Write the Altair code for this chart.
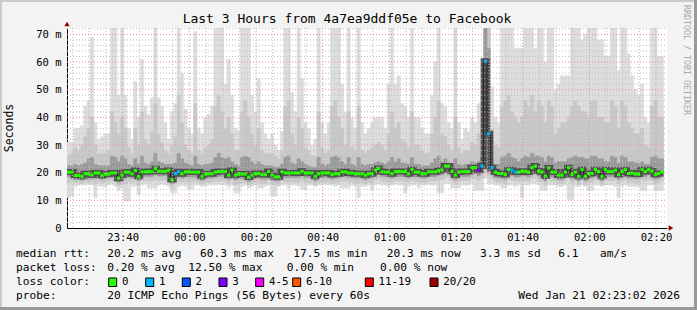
import altair as alt
import pandas as pd

# ---------------- data ----------------
# median RTT per minute (ms), first step starts at 23:23
med = [20.2, 20.2, 19.0, 19.0, 18.7, 19.6, 19.6, 19.2, 19.9, 19.9,
       19.0, 19.5, 19.5, 19.9, 19.9, 18.0, 19.1, 20.2, 20.2, 19.6,
       20.8, 18.7, 20.3, 20.3, 20.4, 20.4, 21.4, 20.5, 20.5, 20.5,
       20.9, 17.5, 19.6, 20.3, 19.6, 20.3, 20.3, 20.2, 20.2, 20.2,
       18.7, 19.6, 19.6, 19.6, 20.2, 20.4, 20.4, 20.4, 19.1, 20.9,
       19.1, 19.5, 19.5, 19.5, 18.4, 19.1, 19.7, 19.7, 19.3, 19.3,
       20.4, 19.1, 18.5, 18.5, 20.3, 19.9, 19.9, 19.9, 19.9, 19.9,
       20.5, 19.9, 19.9, 19.9, 18.7, 19.6, 19.9, 19.9, 19.9, 19.3,
       19.6, 19.6, 20.3, 20.3, 19.9, 19.9, 19.6, 19.6, 19.6, 19.1,
       19.6, 19.6, 20.9, 21.5, 20.3, 20.2, 20.2, 19.6, 20.4, 20.4,
       20.4, 20.4, 19.6, 21.1, 20.2, 20.2, 19.6, 19.6, 20.3, 20.3,
       20.3, 20.7, 21.0, 22.4, 22.4, 20.5, 19.1, 20.2, 20.4, 20.4,
       20.4, 21.8, 21.8, 20.9, 22.4, 60.3, 34.1, 21.8, 20.2, 19.7,
       19.7, 19.3, 21.1, 20.9, 20.2, 20.2, 20.5, 20.5, 20.2, 21.8,
       22.4, 20.6, 20.2, 18.8, 21.7, 20.2, 20.2, 19.1, 19.1, 20.2,
       21.8, 19.3, 20.2, 18.7, 21.1, 18.7, 19.7, 19.7, 21.1, 20.4,
       18.7, 21.1, 20.4, 20.4, 20.9, 19.3, 20.4, 21.1, 19.7, 19.9,
       19.5, 19.5, 21.1, 20.4, 21.1, 20.6, 19.3, 19.7, 20.3]

# lost pings (of 20) per minute
loss = [0] * len(med)
for idx, k in [(32, 1), (33, 1), (123, 3), (124, 1), (125, 1), (126, 1),
               (127, 1), (133, 1), (134, 1)]:
    loss[idx] = k

# smoke: outer (max/min), middle and inner ping spreads (ms)
hi1 = [31, 31, 36, 36, 37, 44, 46, 69, 38, 32,
       33, 34, 34, 75, 75, 48, 75, 48, 36, 32,
       53, 40, 61, 44, 41, 47, 75, 47, 44, 38,
       32, 42, 45, 75, 56, 43, 36, 34, 71, 36,
       34, 40, 41, 44, 75, 75, 75, 52, 61, 48,
       36, 35, 75, 75, 75, 48, 42, 54, 38, 34,
       32, 34, 30, 28, 35, 75, 75, 49, 42, 75,
       54, 38, 36, 30, 32, 75, 38, 34, 38, 75,
       75, 75, 52, 42, 75, 40, 36, 75, 38, 34,
       36, 38, 40, 40, 40, 36, 52, 75, 52, 55,
       45, 44, 40, 75, 40, 40, 36, 34, 34, 48,
       60, 75, 45, 44, 38, 36, 75, 38, 32, 36,
       35, 40, 38, 45, 45, 75, 75, 51, 40, 38,
       75, 75, 75, 75, 65, 65, 65, 75, 75, 75,
       65, 75, 75, 60, 75, 75, 50, 52, 55, 55,
       55, 75, 75, 75, 68, 70, 72, 75, 75, 68,
       68, 62, 62, 75, 75, 57, 75, 75, 63, 55,
       50, 48, 52, 40, 38, 75, 75, 62, 62]
hi2 = [26, 27, 29, 28, 30, 33, 36, 40, 30, 27,
       27, 27, 28, 42, 38, 34, 40, 36, 29, 27,
       36, 30, 42, 32, 30, 35, 45, 34, 31, 28,
       27, 30, 33, 48, 38, 30, 28, 27, 45, 28,
       27, 29, 30, 32, 44, 48, 42, 36, 40, 34,
       28, 28, 42, 46, 40, 34, 30, 36, 28, 27,
       27, 27, 26, 25, 28, 44, 46, 34, 30, 40,
       36, 29, 28, 26, 26, 42, 29, 27, 28, 44,
       46, 40, 36, 30, 42, 29, 28, 44, 28, 27,
       28, 29, 30, 31, 30, 28, 34, 42, 36, 38,
       32, 31, 29, 42, 30, 30, 28, 27, 27, 34,
       40, 46, 34, 33, 30, 28, 40, 29, 27, 28,
       28, 31, 30, 34, 36, 75, 75, 36, 30, 29,
       44, 46, 48, 42, 40, 38, 40, 46, 44, 48,
       42, 46, 44, 38, 46, 44, 34, 36, 38, 38,
       40, 44, 46, 44, 42, 42, 40, 46, 46, 40,
       40, 38, 38, 46, 44, 36, 46, 44, 38, 36,
       34, 34, 36, 30, 29, 44, 46, 40, 40]
hi3 = [22.5, 22.5, 23, 22.5, 23, 23.5, 25, 25.5, 23, 22.5,
       22.5, 22.5, 22.5, 26, 25.5, 24, 26, 25, 23, 22.5,
       25, 23, 26, 23.5, 23, 24, 27, 24, 23.5, 23,
       23, 23, 23.5, 27, 25, 23.5, 23, 22.5, 26, 23,
       22.5, 23, 23, 23.5, 25.5, 27, 25.5, 25, 25.5, 24,
       23, 22.5, 25.5, 26, 25.5, 24, 23, 24, 23, 22.5,
       22.5, 22.5, 22, 22, 23, 25.5, 26, 23.5, 23, 25,
       24, 23, 22.5, 22, 22, 25.5, 23, 22.5, 23, 25.5,
       26, 25.5, 24, 23, 25.5, 23, 22.5, 25.5, 23, 22.5,
       23, 23, 23.5, 24, 23.5, 23, 24, 25.5, 24, 25,
       23.5, 23.5, 23, 25.5, 23, 23, 22.5, 22.5, 22.5, 23.5,
       25, 26, 24, 25, 23.5, 23, 25, 23, 22.5, 23,
       23, 24, 23.5, 24, 25.5, 75, 65, 25, 23, 23,
       25.5, 26, 27, 25.5, 25, 24, 25, 26, 25.5, 27,
       26, 26, 25.5, 24, 26, 25.5, 23.5, 24, 24, 24,
       25, 25.5, 26, 25.5, 25.5, 25, 25, 26, 26, 25,
       25, 24, 24, 26, 25.5, 23.5, 26, 25.5, 24, 24,
       23.5, 23.5, 24, 23, 23, 25.5, 26, 25, 25]
lo3 = [18.5, 18.0, 17.5, 17.6, 17.2, 17.8, 17.6, 17.8, 18.0, 18.0,
       17.6, 17.8, 18.0, 18.2, 18.2, 16.5, 17.5, 18.5, 18.4, 18.0,
       18.8, 17.2, 18.6, 18.6, 18.6, 18.6, 19.5, 18.8, 18.8, 19.0,
       18.8, 16.0, 17.8, 18.5, 18.0, 18.6, 18.5, 18.4, 18.4, 18.4,
       17.2, 18.0, 18.0, 18.0, 18.4, 18.6, 18.6, 18.6, 17.6, 19.0,
       17.4, 17.8, 17.8, 17.8, 16.8, 17.4, 18.0, 18.0, 17.6, 17.6,
       18.6, 17.4, 17.0, 17.0, 18.6, 18.2, 18.2, 18.2, 18.2, 18.2,
       18.8, 18.2, 18.2, 18.2, 17.0, 18.0, 18.2, 18.2, 18.2, 17.6,
       18.0, 18.0, 18.6, 18.6, 18.2, 18.2, 18.0, 18.0, 18.0, 17.4,
       18.0, 18.0, 19.0, 19.6, 18.6, 18.5, 18.5, 18.0, 18.6, 18.6,
       18.6, 18.6, 18.0, 19.0, 18.4, 18.4, 18.0, 18.0, 18.6, 18.6,
       18.6, 19.0, 19.2, 20.5, 20.5, 18.8, 17.4, 18.4, 18.6, 18.6,
       18.6, 19.8, 19.8, 19.0, 20.0, 22.0, 20.0, 19.5, 18.4, 18.0,
       18.0, 17.6, 19.2, 19.0, 18.4, 18.4, 18.8, 18.8, 18.4, 19.8,
       20.4, 18.8, 18.4, 17.0, 19.8, 18.4, 18.4, 17.4, 17.4, 18.4,
       19.8, 17.6, 18.4, 17.0, 19.2, 17.0, 18.0, 18.0, 19.2, 18.6,
       17.0, 19.2, 18.6, 18.6, 19.0, 17.6, 18.6, 19.2, 18.0, 18.2,
       17.8, 17.8, 19.2, 18.6, 19.2, 18.8, 17.6, 18.0, 18.6]
lo2 = [16.5, 16.8, 16.5, 16.6, 16.2, 16.8, 16.4, 16.7, 16.0, 16.8,
       16.2, 16.5, 16.8, 17.0, 16.6, 15.2, 16.0, 16.0, 16.8, 16.5,
       17.0, 15.5, 17.0, 17.2, 16.8, 17.0, 17.5, 17.2, 17.0, 17.3,
       17.0, 14.5, 16.0, 16.8, 16.5, 16.8, 16.5, 16.6, 16.8, 16.6,
       15.8, 16.5, 16.5, 16.5, 16.8, 17.0, 17.0, 17.0, 16.2, 17.2,
       15.5, 16.0, 16.4, 16.4, 15.5, 16.0, 16.5, 16.5, 16.0, 16.2,
       17.0, 16.0, 15.5, 15.5, 17.0, 16.6, 16.4, 16.6, 16.6, 16.5,
       17.0, 16.5, 16.5, 16.5, 15.5, 16.4, 16.5, 16.5, 16.6, 16.0,
       16.5, 16.5, 17.0, 16.8, 16.6, 16.6, 16.2, 16.0, 16.4, 16.0,
       16.5, 16.2, 17.2, 17.8, 17.0, 16.8, 16.8, 16.4, 17.0, 17.0,
       17.0, 16.8, 16.4, 17.2, 16.8, 16.6, 16.4, 16.4, 17.0, 17.0,
       17.0, 17.2, 17.4, 18.4, 18.4, 17.0, 16.0, 16.6, 17.0, 17.0,
       17.0, 18.0, 18.0, 17.2, 18.0, 20.0, 18.5, 17.8, 16.8, 16.5,
       16.5, 16.0, 17.4, 17.2, 16.8, 16.8, 17.0, 17.0, 16.8, 18.0,
       18.4, 17.0, 16.8, 15.5, 18.0, 16.8, 16.8, 16.0, 16.0, 16.8,
       18.0, 16.2, 16.8, 15.6, 17.4, 15.6, 16.4, 16.4, 17.4, 17.0,
       15.6, 17.4, 17.0, 17.0, 17.2, 16.0, 17.0, 17.4, 16.4, 16.6,
       16.2, 16.2, 17.4, 17.0, 17.4, 17.0, 16.0, 16.4, 17.0]
lo1 = [11.0, 11.5, 15.0, 15.5, 15.5, 15.5, 15.8, 15.5, 11.0, 15.2,
       14.8, 15.0, 15.5, 15.8, 15.0, 13.5, 14.5, 9.7, 9.7, 15.0,
       15.0, 12.0, 15.5, 15.8, 14.5, 14.5, 14.5, 15.5, 15.8, 15.5,
       15.0, 12.7, 12.7, 15.0, 15.5, 15.0, 14.0, 14.0, 15.5, 15.5,
       15.0, 15.2, 15.5, 15.5, 15.5, 15.8, 15.5, 15.5, 14.8, 15.5,
       12.7, 12.7, 15.0, 15.5, 14.5, 15.0, 15.5, 14.5, 14.5, 15.0,
       15.5, 11.5, 11.5, 15.0, 15.5, 15.5, 14.5, 15.5, 15.5, 15.2,
       14.0, 14.0, 15.5, 15.5, 15.0, 15.5, 15.5, 15.8, 15.5, 15.5,
       15.0, 15.5, 14.5, 14.5, 14.5, 15.5, 15.0, 10.9, 15.0, 15.0,
       15.5, 13.5, 15.5, 16.0, 15.5, 15.5, 15.0, 15.5, 15.8, 15.5,
       15.5, 12.7, 15.0, 15.5, 15.5, 14.5, 15.5, 15.5, 15.8, 15.5,
       15.5, 12.7, 12.7, 16.0, 16.0, 14.5, 14.5, 14.5, 15.5, 15.5,
       15.5, 16.0, 13.5, 13.5, 13.5, 18.0, 16.0, 16.0, 15.5, 15.5,
       14.5, 14.5, 15.5, 15.5, 15.0, 15.5, 10.9, 15.5, 15.5, 16.0,
       16.0, 15.5, 13.5, 13.5, 15.5, 15.5, 15.5, 15.0, 15.0, 15.5,
       10.3, 10.3, 15.0, 15.0, 15.5, 15.0, 13.5, 13.5, 15.5, 15.5,
       15.0, 15.5, 15.5, 15.5, 15.0, 10.9, 15.0, 15.5, 15.0, 15.0,
       15.0, 15.0, 13.5, 13.5, 15.5, 15.5, 13.5, 13.5, 13.5]

loss_labels = ["0", "1", "2", "3", "4-5", "6-10", "11-19", "20/20"]
loss_colors = ["#26ff00", "#00b8ff", "#0059ff", "#7e00ff", "#ff00ff",
               "#ff5500", "#ff0000", "#a10000"]

x_tick_values = [40, 60, 80, 100, 120, 140, 160, 180, 200]   # minutes after 23:00
y_tick_values = [0, 10, 20, 30, 40, 50, 60, 70]

# ---------------- frame ----------------
T0 = 23.3            # left edge: minutes after 23:00
W, H = 600, 200
PL, PT = 67, 28
YMAX = 72.3

def lclass(k):
    if k <= 3:
        return loss_labels[k]
    if k <= 5:
        return "4-5"
    if k <= 10:
        return "6-10"
    if k <= 19:
        return "11-19"
    return "20/20"

n = len(med)
df = pd.DataFrame({
    "t": [T0 + i for i in range(n)],
    "t2": [T0 + i + 1 for i in range(n)],
    "med": med, "lc": [lclass(k) for k in loss],
    "hi1": hi1, "hi2": hi2, "hi3": hi3, "lo1": lo1, "lo2": lo2, "lo3": lo3,
})

FONT = "DejaVu Sans Mono"
xs = alt.Scale(domain=[T0, T0 + 180], nice=False, zero=False)
ys = alt.Scale(domain=[0, YMAX], nice=False)
xaxis = alt.Axis(values=x_tick_values, title=None, grid=False, ticks=False,
                 labelExpr="timeFormat(datetime(2026, 0, 20, 23, datum.value, 0), '%H:%M')",
                 labelFont=FONT, labelFontSize=10.5, labelColor="#000",
                 labelPadding=4, domainColor="#000", domainWidth=1,
                 labelFlush=False, labelOverlap=False)
yaxis = alt.Axis(values=y_tick_values, title=None, grid=False, ticks=False,
                 labelExpr="datum.value == 0 ? '0\u00a0\u00a0' : datum.value + ' m'",
                 labelFont=FONT, labelFontSize=10.5, labelColor="#000",
                 labelPadding=6, domainColor="#000", domainWidth=1,
                 labelFlush=False, labelOverlap=False)

def X(f):
    return alt.X(f, scale=xs, axis=xaxis)

def Y(f):
    return alt.Y(f, scale=ys, axis=yaxis)

base = alt.Chart(df)
layers = []
for lo, hi, col in [("lo1", "hi1", "#dddddd"), ("lo2", "hi2", "#c8c8c8"),
                    ("lo3", "hi3", "#9a9a9a")]:
    layers.append(base.mark_bar(color=col, stroke=col, strokeWidth=0.5, clip=True)
                  .encode(x=X("t:Q"), x2="t2:Q", y=Y(lo + ":Q"), y2=hi + ":Q"))
# dark core around the median
layers.append(base.mark_line(interpolate="step-after", color="#505050",
                             strokeWidth=6, clip=True)
              .encode(x=X("t:Q"), y=Y("med:Q")))

# grid
v_minor = [v for v in range(25, 205, 5) if v % 20 != 0]
v_major = x_tick_values
h_minor = [v for v in range(2, 73, 2) if v % 10 != 0]
h_major = [10, 20, 30, 40, 50, 60, 70]
layers.append(alt.Chart(pd.DataFrame({"v": v_minor})).mark_rule(
    color="#bdbdbd", strokeDash=[1, 2], strokeWidth=1)
    .encode(x=X("v:Q"), y=alt.value(0), y2=alt.value(H)))
layers.append(alt.Chart(pd.DataFrame({"v": h_minor})).mark_rule(
    color="#bdbdbd", strokeDash=[1, 2], strokeWidth=1)
    .encode(y=Y("v:Q"), x=alt.value(0), x2=alt.value(W)))
layers.append(alt.Chart(pd.DataFrame({"v": v_major})).mark_rule(
    color="#f08c8c", strokeDash=[1, 2], strokeWidth=1)
    .encode(x=X("v:Q"), y=alt.value(0), y2=alt.value(H)))
layers.append(alt.Chart(pd.DataFrame({"v": h_major})).mark_rule(
    color="#f08c8c", strokeDash=[1, 2], strokeWidth=1)
    .encode(y=Y("v:Q"), x=alt.value(0), x2=alt.value(W)))

# median line (thin connector + coloured segments by loss)
layers.append(base.mark_line(interpolate="step-after", color="#202020",
                             strokeWidth=1, clip=True)
              .encode(x=X("t:Q"), y=Y("med:Q")))
layers.append(base.mark_rule(strokeWidth=3, clip=True).encode(
    x=X("t:Q"), x2="t2:Q", y=Y("med:Q"),
    color=alt.Color("lc:N", scale=alt.Scale(domain=loss_labels, range=loss_colors),
                    legend=None)))

one = pd.DataFrame({"a": [0]})

def text(s, px, py, size=11.2, align="left", color="#000", angle=0, font=FONT):
    kw = dict(text=s, font=font, fontSize=size, align=align, baseline="middle",
              color=color)
    if angle:
        kw["angle"] = angle
    return alt.Chart(one).mark_text(**kw).encode(
        x=alt.value(px - PL), y=alt.value(py - PT))

# arrows at axis ends
layers.append(alt.Chart(one).mark_point(shape="triangle-up", filled=True,
                                        color="#8b0000", size=28, opacity=1)
              .encode(x=alt.value(0), y=alt.value(-4)))
layers.append(alt.Chart(one).mark_point(shape="triangle-right", filled=True,
                                        color="#8b0000", size=28, opacity=1)
              .encode(x=alt.value(W + 4), y=alt.value(H)))

# titles
layers.append(text("Last 3 Hours from 4a7ea9ddf05e to Facebook", 347, 19, size=13,
                   align="center"))
layers.append(text("Seconds", 10, 128, size=11.5, align="center", angle=270))
layers.append(text("RRDTOOL / TOBI OETIKER", 686, 60, size=8.3, align="center",
                   angle=90, color="#a8a8a8"))

# legend lines
rows = [
    (254.3, [("median rtt:", 16), ("20.2 ms avg", 107.3), ("60.3 ms max", 200),
             ("17.5 ms min", 293.3), ("20.3 ms now", 386.7), ("3.3 ms sd", 480),
             ("6.1", 558.3), ("am/s", 600)]),
    (268.3, [("packet loss:", 16), ("0.20 % avg", 107.3), ("12.50 % max", 188.3),
             ("0.00 % min", 286.7), ("0.00 % now", 380)]),
    (282.3, [("loss color:", 16)]),
    (296.0, [("probe:", 16), ("20 ICMP Echo Pings (56 Bytes) every 60s", 107.3)]),
]
for py, toks in rows:
    for s, px in toks:
        layers.append(text(s, px, py))
layers.append(text("Wed Jan 21 02:23:02 2026", 680, 296, align="right"))

sq_x = [108.7, 145.7, 182.3, 219.0, 255.7, 292.7, 365.3, 430.0]
for lab, col, sx in zip(loss_labels, loss_colors, sq_x):
    layers.append(alt.Chart(one).mark_rect(color=col, stroke="#000", strokeWidth=1)
                  .encode(x=alt.value(sx - PL), x2=alt.value(sx + 8 - PL),
                          y=alt.value(278 - PT), y2=alt.value(286.5 - PT)))
    layers.append(text(lab, sx + 13.3, 282.3, size=10.8))

# 3-D frame
layers.append(alt.Chart(one).mark_rule(color="#cbcbcb", strokeWidth=2).encode(
    x=alt.value(-PL + 1), y=alt.value(-PT), y2=alt.value(310 - PT)))
layers.append(alt.Chart(one).mark_rule(color="#cbcbcb", strokeWidth=2).encode(
    y=alt.value(-PT + 1), x=alt.value(-PL), x2=alt.value(697 - PL)))
layers.append(alt.Chart(one).mark_rule(color="#999999", strokeWidth=3).encode(
    x=alt.value(697 - PL - 1.5), y=alt.value(-PT), y2=alt.value(310 - PT)))
layers.append(alt.Chart(one).mark_rule(color="#999999", strokeWidth=3).encode(
    y=alt.value(310 - PT - 1.5), x=alt.value(-PL), x2=alt.value(697 - PL)))

chart = alt.layer(*layers).properties(
    width=W, height=H,
    padding={"left": PL, "top": PT, "right": 697 - PL - W, "bottom": 310 - PT - H},
    autosize=alt.AutoSizeParams(type="none"),
    background="#f3f3f3",
).configure_view(stroke=None, fill="white")

chart.save("out.html", embed_options={"renderer": "svg", "actions": False})
